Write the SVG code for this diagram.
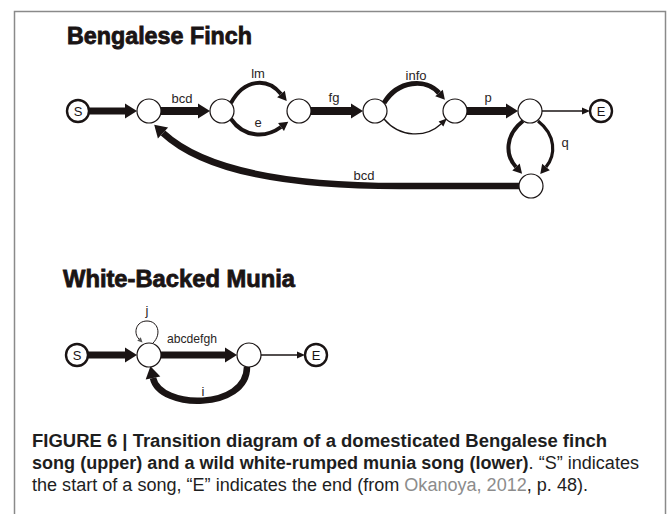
<svg xmlns="http://www.w3.org/2000/svg" width="668" height="514" viewBox="0 0 668 514">
  <style>
    .frame { fill: none; stroke: #8a8a8a; stroke-width: 1.5; }
    .title { font-family: "Liberation Sans", Arial, sans-serif; font-weight: bold; font-size: 23px; fill: #1a1414; stroke: #1a1414; stroke-width: 0.8; }
    .state { fill: #fff; stroke: #1a1414; stroke-width: 1.2; }
    .term { fill: #fff; stroke: #1a1414; stroke-width: 2.4; }
    .term-t { font-family: "Liberation Sans", Arial, sans-serif; font-size: 13px; fill: #1a1414; text-anchor: middle; }
    .lbl { font-family: "Liberation Sans", Arial, sans-serif; font-size: 13px; fill: #2a2424; text-anchor: middle; }
    .edge { fill: none; stroke: #1a1414; }
    .w8 { stroke-width: 8; }
    .w7 { stroke-width: 7; }
    .w6 { stroke-width: 6.5; }
    .w5 { stroke-width: 5; }
    .w4 { stroke-width: 4; }
    .w3 { stroke-width: 3.2; }
    .w1 { stroke-width: 1.3; }
    .cap { font-family: "Liberation Sans", Arial, sans-serif; font-size: 18px; fill: #1e1e1e; }
    .capb { font-weight: bold; }
    .link { fill: #8c8c8c; }
  </style>
  <defs>
    <marker id="hBig" markerUnits="userSpaceOnUse" viewBox="0 0 12 15" refX="0" refY="7.5" markerWidth="12" markerHeight="15" orient="auto" overflow="visible">
      <path d="M0,0 L12,7.5 L0,15 z" fill="#1a1414"/>
    </marker>
    <marker id="hMid" markerUnits="userSpaceOnUse" viewBox="0 0 9 10" refX="0" refY="5" markerWidth="9" markerHeight="10" orient="auto" overflow="visible">
      <path d="M0,0 L9,5 L0,10 z" fill="#1a1414"/>
    </marker>
    <marker id="hThin" markerUnits="userSpaceOnUse" viewBox="0 0 8 7" refX="0" refY="3.5" markerWidth="8" markerHeight="7" orient="auto" overflow="visible">
      <path d="M0,0 L8,3.5 L0,7 z" fill="#1a1414"/>
    </marker>
    <marker id="hTiny" markerUnits="userSpaceOnUse" viewBox="0 0 5 5" refX="0" refY="2.5" markerWidth="5" markerHeight="5" orient="auto" overflow="visible">
      <path d="M0,0 L5,2.5 L0,5 z" fill="#555"/>
    </marker>
  </defs>

  <!-- panel frame, open at the bottom -->
  <path class="frame" d="M14.5,514 V11.5 H665.5 V514"/>

  <!-- Bengalese finch -->
  <text class="title" x="67" y="44" textLength="185" lengthAdjust="spacingAndGlyphs">Bengalese Finch</text>

  <g id="bf-edges">
    <line class="edge w7" x1="89" y1="111" x2="125" y2="111" marker-end="url(#hBig)"/>
    <line class="edge w8" x1="161" y1="111" x2="198" y2="111" marker-end="url(#hBig)"/>
    <path class="edge w4" d="M231,103 C244,79 267,77 281,94" marker-end="url(#hMid)"/>
    <path class="edge w4" d="M231,119 C244,138 266,138 281,127" marker-end="url(#hMid)"/>
    <line class="edge w8" x1="311" y1="111" x2="351" y2="111" marker-end="url(#hBig)"/>
    <path class="edge w5" d="M384,103 C398,80 426,78 439,93" marker-end="url(#hMid)"/>
    <path class="edge w1" d="M384,119 C400,138 426,138 441,124" marker-end="url(#hThin)"/>
    <line class="edge w8" x1="467" y1="111" x2="506" y2="111" marker-end="url(#hBig)"/>
    <line class="edge w1" x1="542" y1="111" x2="582" y2="111" marker-end="url(#hThin)"/>
    <path class="edge w4" d="M523,121 C505,135 505,155 516,167" marker-end="url(#hMid)"/>
    <path class="edge w3" d="M538,121 C556,135 556,155 546,167" marker-end="url(#hMid)"/>
    <path class="edge w6" d="M519,186 L400,186 C290,186 205,172 163,133" marker-end="url(#hBig)"/>
    <text class="lbl" x="182" y="103">bcd</text>
    <text class="lbl" x="258" y="78">lm</text>
    <text class="lbl" x="258" y="127">e</text>
    <text class="lbl" x="334" y="102">fg</text>
    <text class="lbl" x="416" y="80">info</text>
    <text class="lbl" x="488" y="102">p</text>
    <text class="lbl" x="565" y="147">q</text>
    <text class="lbl" x="364" y="180">bcd</text>
  </g>

  <g id="bf-S"><circle class="term" cx="78" cy="111" r="11"/><text class="term-t" x="78" y="115.5">S</text></g>
  <g id="bf-n1"><circle class="state" cx="149" cy="111" r="12"/></g>
  <g id="bf-n2"><circle class="state" cx="222" cy="111" r="12"/></g>
  <g id="bf-n3"><circle class="state" cx="299" cy="111" r="12"/></g>
  <g id="bf-n4"><circle class="state" cx="375" cy="111" r="12"/></g>
  <g id="bf-n5"><circle class="state" cx="455" cy="111" r="12"/></g>
  <g id="bf-n6"><circle class="state" cx="530" cy="111" r="12"/></g>
  <g id="bf-n7"><circle class="state" cx="531" cy="186" r="12"/></g>
  <g id="bf-E"><circle class="term" cx="601" cy="111" r="11"/><text class="term-t" x="601" y="115.5">E</text></g>

  <!-- White-backed munia -->
  <text class="title" x="63" y="287" textLength="232" lengthAdjust="spacingAndGlyphs">White-Backed Munia</text>

  <g id="wm-edges">
    <line class="edge w7" x1="88" y1="355" x2="125" y2="355" marker-end="url(#hBig)"/>
    <line class="edge w7" x1="161" y1="355" x2="225" y2="355" marker-end="url(#hBig)"/>
    <line class="edge w1" x1="261" y1="355" x2="297" y2="355" marker-end="url(#hThin)"/>
    <path class="edge" stroke-width="1" stroke="#555" d="M153,343 C162,334 158,321 147,321 C136,321 133,333 139,339" marker-end="url(#hTiny)"/>
    <path class="edge w6" d="M247,367 C247,410 160,410 153,378" marker-end="url(#hBig)"/>
    <text class="lbl" x="147" y="315">j</text>
    <text class="lbl" x="192" y="343" textLength="50" lengthAdjust="spacingAndGlyphs">abcdefgh</text>
    <text class="lbl" x="203" y="396">i</text>
  </g>

  <g id="wm-S"><circle class="term" cx="77" cy="355" r="11"/><text class="term-t" x="77" y="359.5">S</text></g>
  <g id="wm-a"><circle class="state" cx="149" cy="355" r="12"/></g>
  <g id="wm-b"><circle class="state" cx="249" cy="355" r="12"/></g>
  <g id="wm-E"><circle class="term" cx="316" cy="355" r="11"/><text class="term-t" x="316" y="359.5">E</text></g>

  <!-- caption -->
  <text class="cap capb" x="32" y="447" textLength="575" lengthAdjust="spacingAndGlyphs">FIGURE 6 | Transition diagram of a domesticated Bengalese finch</text>
  <text class="cap" x="32" y="469" textLength="607" lengthAdjust="spacingAndGlyphs"><tspan class="capb">song (upper) and a wild white-rumped munia song (lower)</tspan>. “S” indicates</text>
  <text class="cap" x="32" y="491" textLength="556" lengthAdjust="spacingAndGlyphs">the start of a song, “E” indicates the end (from <tspan class="link">Okanoya, 2012</tspan>, p. 48).</text>
</svg>
